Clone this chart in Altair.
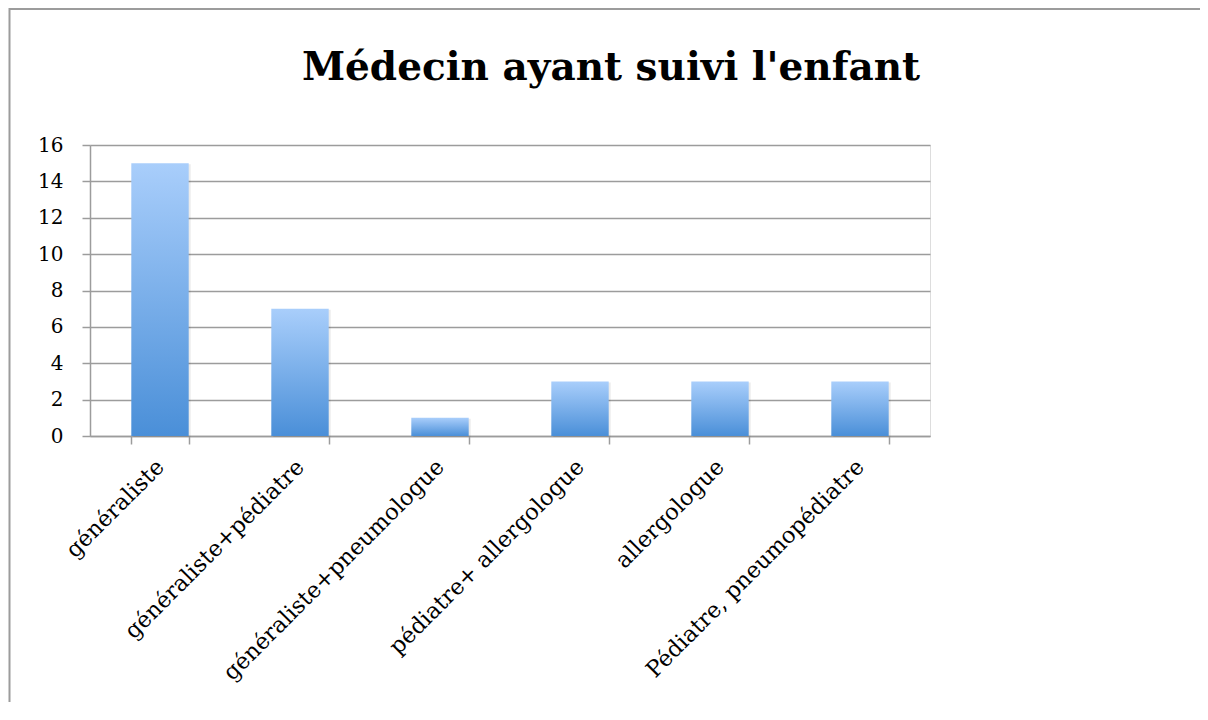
import altair as alt
import pandas as pd

categories = ["généraliste", "généraliste+pédiatre", "généraliste+pneumologue",
              "pédiatre+ allergologue", "allergologue", "Pédiatre, pneumopédiatre"]
values = [15, 7, 1, 3, 3, 3]
y_ticks = [0, 2, 4, 6, 8, 10, 12, 14, 16]
title_text = "Médecin ayant suivi l'enfant"

df = pd.DataFrame({"cat": categories, "val": values})
one = pd.DataFrame({"k": [0]})

FONT = "DejaVu Serif"
GRID = "#9c9c9c"

grad = alt.Gradient(
    gradient="linear",
    stops=[alt.GradientStop(color="#a9cefb", offset=0),
           alt.GradientStop(color="#4a8fd8", offset=1)],
    x1=0, x2=0, y1=0, y2=1,
)

x_enc = alt.X("cat:N", sort=categories, title=None,
              scale=alt.Scale(paddingInner=0.59, paddingOuter=0.295),
              axis=alt.Axis(labelAngle=-45, labelAlign="right", labelBaseline="middle",
                            labelFont=FONT, labelFontSize=22.5, labelColor="black",
                            labelPadding=19, tickBand="extent", tickSize=8,
                            tickColor=GRID, tickWidth=1.5, domainColor=GRID,
                            domainWidth=1.5, grid=False, labelLimit=0))
y_enc = alt.Y("val:Q", title=None,
              scale=alt.Scale(domain=[0, 16], nice=False),
              axis=alt.Axis(values=y_ticks, labelFont=FONT, labelFontSize=20,
                            labelColor="black", labelPadding=19, tickSize=8,
                            tickColor=GRID, tickWidth=1.5, domainColor=GRID,
                            domainWidth=1.5, gridColor=GRID, gridWidth=1.6,
                            gridOpacity=1))

shadow = alt.Chart(df).mark_bar(color="#000000", opacity=0.08, xOffset=2, yOffset=1).encode(
    x=x_enc, y=y_enc)
bars = alt.Chart(df).mark_bar(color=grad).encode(x=x_enc, y=y_enc)

title_mark = alt.Chart(one).mark_text(
    text=title_text, font=FONT, fontSize=39, fontWeight="bold", color="black",
    align="center", baseline="alphabetic").encode(x=alt.value(521), y=alt.value(-65))

frame = alt.Chart(one).mark_rect(fillOpacity=0, stroke="#9c9c9c", strokeWidth=2).encode(
    x=alt.value(-80.5), x2=alt.value(1300), y=alt.value(-136), y2=alt.value(800))

chart = alt.layer(shadow, bars, title_mark, frame).properties(
    width=840, height=291,
    autosize=alt.AutoSizeParams(type="none"),
    padding={"left": 82, "top": 137, "right": 270, "bottom": 266},
).configure_view(stroke="transparent", strokeWidth=0).configure(background="white")

chart.save("out.html", embed_options={"renderer": "svg", "actions": False})
